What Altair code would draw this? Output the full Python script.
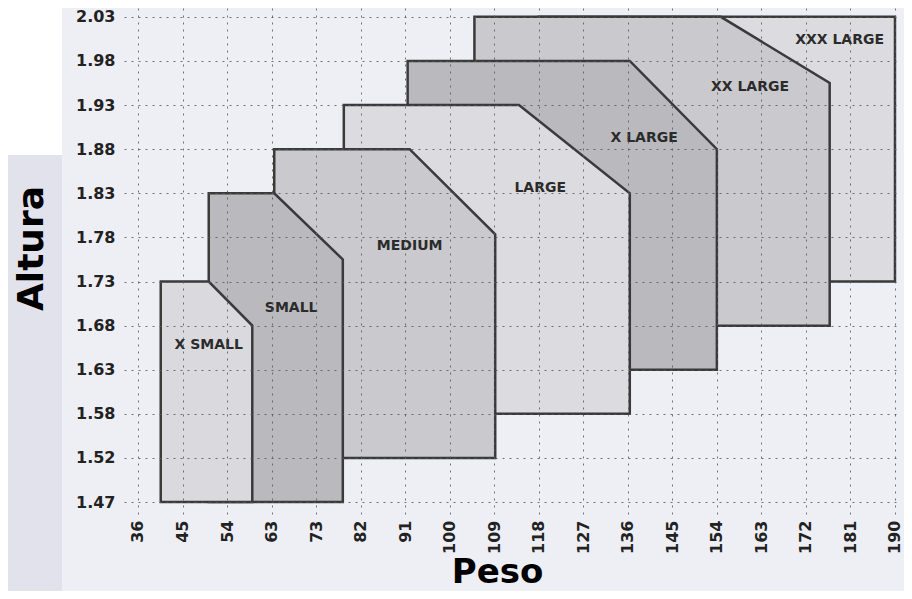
import json
import altair as alt
import numpy as np
import pandas as pd

# ---- axis tick labels (kg and metres), evenly spaced on the chart ----
weight_ticks = [36, 45, 54, 63, 73, 82, 91, 100, 109, 118, 127, 136, 145, 154, 163, 172, 181, 190]
height_ticks = [1.47, 1.52, 1.58, 1.63, 1.68, 1.73, 1.78, 1.83, 1.88, 1.93, 1.98, 2.03]

# ---- size regions, back to front ----
sizes = ["XXX LARGE", "XX LARGE", "X LARGE", "LARGE", "MEDIUM", "SMALL", "X SMALL"]
w_left = [118.0, 105.0, 91.5, 78.6, 63.6, 50.3, 40.6]      # left edge (kg)
w_corner = [190.0, 154.8, 136.4, 114.0, 91.9, 63.6, 50.3]  # where the slope starts (kg)
w_right = [190.0, 176.8, 154.0, 136.4, 109.2, 78.4, 59.1]  # right edge (kg)
h_top = [2.03, 2.03, 1.98, 1.93, 1.88, 1.83, 1.73]         # top height (m)
h_slope_end = [2.03, 1.955, 1.88, 1.83, 1.7835, 1.755, 1.68]  # height at right edge (m)
h_bottom = [1.73, 1.68, 1.63, 1.58, 1.52, 1.47, 1.47]      # bottom height (m)

# label anchors
label_w = [178.8, 160.7, 139.3, 118.3, 91.9, 67.4, 50.3]
label_h = [2.004, 1.950, 1.893, 1.8365, 1.770, 1.700, 1.6575]

fills = ["#DCDCE0", "#CACACE", "#B9B9BE", "#DCDCE0", "#C9C9CE", "#B9B9BE", "#D9D9DE"]

gx_idx = list(range(len(weight_ticks)))
gy_idx = list(range(len(height_ticks)))


def gx(w):
    return float(np.interp(w, weight_ticks, gx_idx))


def gy(h):
    return float(np.interp(h, height_ticks, gy_idx))


rows = []
for i, s in enumerate(sizes):
    pts = [(w_left[i], h_top[i])]
    if w_corner[i] < w_right[i]:
        pts.append((w_corner[i], h_top[i]))
    pts.append((w_right[i], h_slope_end[i]))
    for w, h in pts:
        rows.append({"size": s, "x": gx(w), "y": gy(h), "y2": gy(h_bottom[i])})
shapes = pd.DataFrame(rows)

labels = pd.DataFrame({
    "size": sizes,
    "x": [gx(w) for w in label_w],
    "y": [gy(h) for h in label_h],
})

W_LABELS = json.dumps([str(t) for t in weight_ticks])
H_LABELS = json.dumps([f"{t:.2f}" for t in height_ticks])

FONT = "DejaVu Sans"
GRID = dict(grid=True, gridColor="#5A5A5A", gridDash=[2, 5], gridWidth=1, gridOpacity=0.85)

x_scale = alt.Scale(domain=[-0.314, 17.09], nice=False, zero=False)
y_scale = alt.Scale(domain=[-0.27, 11.20], nice=False, zero=False)

x_axis = alt.Axis(
    values=gx_idx, labelExpr=f"{W_LABELS}[datum.value]",
    labelAngle=-90, labelFont=FONT, labelFontWeight="bold", labelFontSize=16,
    labelColor="#222222", labelPadding=6, labelFlush=False, labelOverlap=False,
    domain=False, ticks=False, **GRID,
    title="Peso", titleFont=FONT, titleFontWeight="bold", titleFontSize=34,
    titleColor="#000000", titleX=373, titleY=68, titleAlign="center",
    titleBaseline="alphabetic", zindex=1,
)
y_axis = alt.Axis(
    values=gy_idx, labelExpr=f"{H_LABELS}[datum.value]",
    labelFont=FONT, labelFontWeight="bold", labelFontSize=16,
    labelColor="#222222", labelPadding=9, labelFlush=False, labelOverlap=False,
    domain=False, ticks=False, **GRID,
    title="Altura", titleFont=FONT, titleFontWeight="bold", titleFontSize=36,
    titleColor="#000000", titleX=-82, titleY=240, titleAngle=270, titleAlign="center",
    titleBaseline="alphabetic", zindex=1,
)

one = pd.DataFrame({"k": [0]})
strip_white = alt.Chart(one).mark_rect(color="#FFFFFF").encode(
    x=alt.value(-116), x2=alt.value(-62), y=alt.value(0), y2=alt.value(147))
strip_lav = alt.Chart(one).mark_rect(color="#E2E2EC").encode(
    x=alt.value(-116), x2=alt.value(-62), y=alt.value(147), y2=alt.value(600))

layers = [strip_white, strip_lav]
for i, s in enumerate(sizes):
    layer = alt.Chart(shapes).transform_filter(alt.datum.size == s).mark_area(
        fill=fills[i], fillOpacity=1, stroke="#3A3A3A", strokeWidth=2.5,
        strokeJoin="miter", interpolate="linear",
    ).encode(
        x=alt.X("x:Q", scale=x_scale, axis=x_axis),
        y=alt.Y("y:Q", scale=y_scale, axis=y_axis),
        y2="y2:Q",
    )
    layers.append(layer)

text = alt.Chart(labels).mark_text(
    font=FONT, fontWeight="bold", fontSize=14, color="#2B2B2B",
).encode(
    x=alt.X("x:Q", scale=x_scale, axis=x_axis),
    y=alt.Y("y:Q", scale=y_scale, axis=y_axis),
    text="size:N",
)
layers.append(text)

chart = alt.layer(*layers).properties(
    width=775, height=506,
    autosize=alt.AutoSizeParams(type="none"),
    padding={"left": 116, "top": 0, "right": 5, "bottom": 77},
    background="#EEEFF4",
).configure_view(stroke=None)

chart.save("out.html", embed_options={"renderer": "svg", "actions": False})
